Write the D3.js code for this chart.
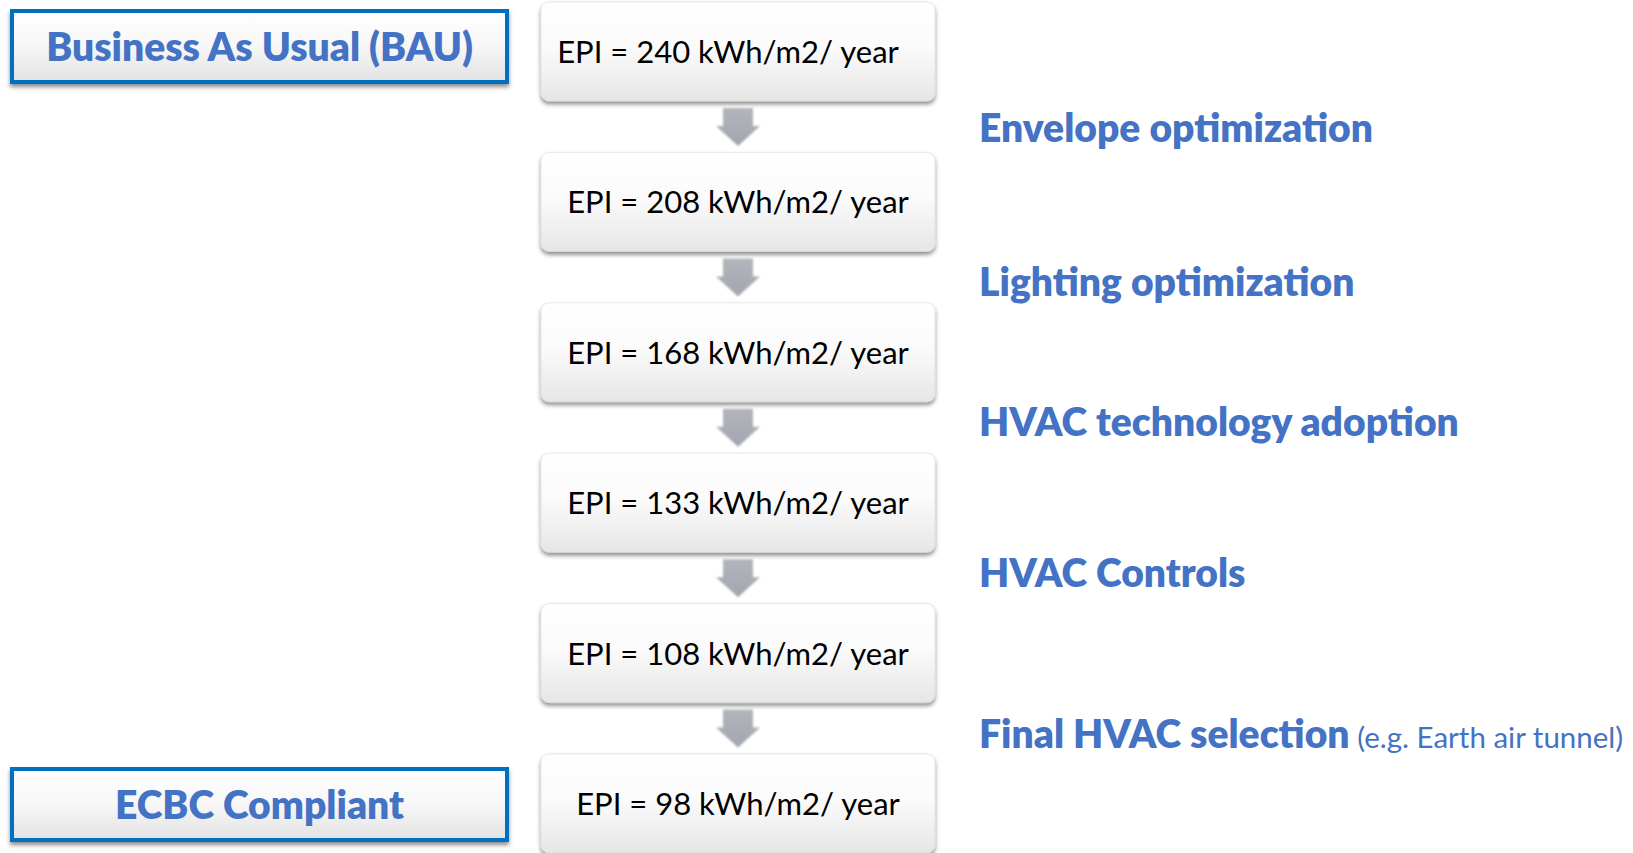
<!DOCTYPE html>
<html>
<head>
<meta charset="utf-8">
<script src="https://cdn.jsdelivr.net/npm/d3@7"></script>
<style>
  html, body { margin: 0; padding: 0; background: #fff; }
  svg { display: block; font-family: Lato, "Open Sans", sans-serif; }
</style>
</head>
<body>
<div id="chart"></div>
<script>
// EPI (kWh/m2/year) after each step
var epiValues = [240, 208, 168, 133, 108, 98];
var stepLabels = ["Envelope optimization", "Lighting optimization", "HVAC technology adoption", "HVAC Controls", "Final HVAC selection"];
var stepNotes = ["", "", "", "", "(e.g. Earth air tunnel)"];
var endLabels = ["Business As Usual (BAU)", "ECBC Compliant"];

!(function (d3) {

  var width = 1633, height = 853;
  var boxX = 541, boxW = 394, boxH = 99;
  var blue = "#4472C4";
  // label baselines sit a little off the arrow centres in the original
  var stepBase = [142, 296, 436, 587, 748];

  var svg = d3.select("#chart")
      .append("svg")
      .attr("width", width)
      .attr("height", height);

  var defs = svg.append("defs");

  var gBox = defs.append("linearGradient")
      .attr("id", "boxFill").attr("x1", 0).attr("y1", 0).attr("x2", 0).attr("y2", 1);
  gBox.append("stop").attr("offset", "0%").attr("stop-color", "#ffffff");
  gBox.append("stop").attr("offset", "45%").attr("stop-color", "#fbfbfb");
  gBox.append("stop").attr("offset", "100%").attr("stop-color", "#e6e6e6");

  var gEnd = defs.append("linearGradient")
      .attr("id", "endFill").attr("x1", 0).attr("y1", 0).attr("x2", 0).attr("y2", 1);
  gEnd.append("stop").attr("offset", "0%").attr("stop-color", "#ffffff");
  gEnd.append("stop").attr("offset", "50%").attr("stop-color", "#f7f7f7");
  gEnd.append("stop").attr("offset", "100%").attr("stop-color", "#e2e2e2");

  var gArrow = defs.append("linearGradient")
      .attr("id", "arrowFill").attr("x1", 0).attr("y1", 0).attr("x2", 0).attr("y2", 1);
  gArrow.append("stop").attr("offset", "0%").attr("stop-color", "#b2b5bc");
  gArrow.append("stop").attr("offset", "100%").attr("stop-color", "#a2a6ae");

  var shadow = defs.append("filter").attr("id", "shadow")
      .attr("x", "-5%").attr("y", "-10%").attr("width", "110%").attr("height", "130%");
  shadow.append("feDropShadow")
      .attr("dx", 0).attr("dy", 3).attr("stdDeviation", 2.2)
      .attr("flood-color", "#000").attr("flood-opacity", 0.45);

  var soft = defs.append("filter").attr("id", "soft");
  soft.append("feGaussianBlur").attr("stdDeviation", 0.9);

  var y = d3.scaleLinear()
      .domain([0, epiValues.length - 1])
      .range([2, 754]);

  // EPI boxes
  var box = svg.selectAll(".epi")
      .data(epiValues)
    .enter().append("g")
      .attr("class", "epi")
      .attr("transform", function(d, i) { return "translate(" + boxX + "," + y(i) + ")"; });

  box.append("rect")
      .attr("width", boxW)
      .attr("height", boxH)
      .attr("rx", 8)
      .attr("fill", "url(#boxFill)")
      .attr("stroke", "#d9d9d9")
      .attr("stroke-width", 0.6)
      .attr("filter", "url(#shadow)");

  box.append("text")
      .attr("x", function(d, i) { return i === 0 ? boxW / 2 - 10 : boxW / 2; })
      .attr("y", 61)
      .attr("text-anchor", "middle")
      .style("font-size", "31px")
      .style("fill", "#000")
      .text(function(d) { return "EPI = " + d + " kWh/m2/ year"; });

  // arrows between boxes
  var cx = boxX + boxW / 2;
  var arrow = d3.line();
  svg.selectAll(".arrow")
      .data(stepLabels)
    .enter().append("path")
      .attr("class", "arrow")
      .attr("fill", "url(#arrowFill)")
      .attr("filter", "url(#soft)")
      .attr("d", function(d, i) {
        var t = y(i) + boxH + 7, h = y(i) + boxH + 25, tip = y(i) + boxH + 45;
        return arrow([[cx - 15, t], [cx + 15, t], [cx + 15, h], [cx + 22, h],
                      [cx, tip], [cx - 22, h], [cx - 15, h]]) + "Z";
      });

  // step labels on the right
  var lab = svg.selectAll(".step")
      .data(stepLabels)
    .enter().append("text")
      .attr("class", "step")
      .attr("x", 979)
      .attr("y", function(d, i) { return stepBase[i]; })
      .style("fill", blue);

  lab.append("tspan")
      .style("font-size", "39px")
      .style("font-weight", 800)
      .text(function(d) { return d; });

  lab.filter(function(d, i) { return stepNotes[i]; })
    .append("tspan")
      .style("font-size", "29.5px")
      .text(function(d, i) { return " " + stepNotes[stepLabels.indexOf(d)]; });

  // BAU / ECBC boxes on the left
  var endY = [11, 769];
  var ends = svg.selectAll(".end")
      .data(endLabels)
    .enter().append("g")
      .attr("class", "end")
      .attr("transform", function(d, i) { return "translate(12," + endY[i] + ")"; });

  ends.append("rect")
      .attr("width", 495)
      .attr("height", 71)
      .attr("fill", "url(#endFill)")
      .attr("stroke", "#0070C0")
      .attr("stroke-width", 4)
      .attr("filter", "url(#shadow)");

  ends.append("text")
      .attr("x", 247.5)
      .attr("y", 50)
      .attr("text-anchor", "middle")
      .style("font-size", "39px")
      .style("font-weight", 800)
      .style("fill", blue)
      .text(function(d) { return d; });

})(d3);
</script>
</body>
</html>
